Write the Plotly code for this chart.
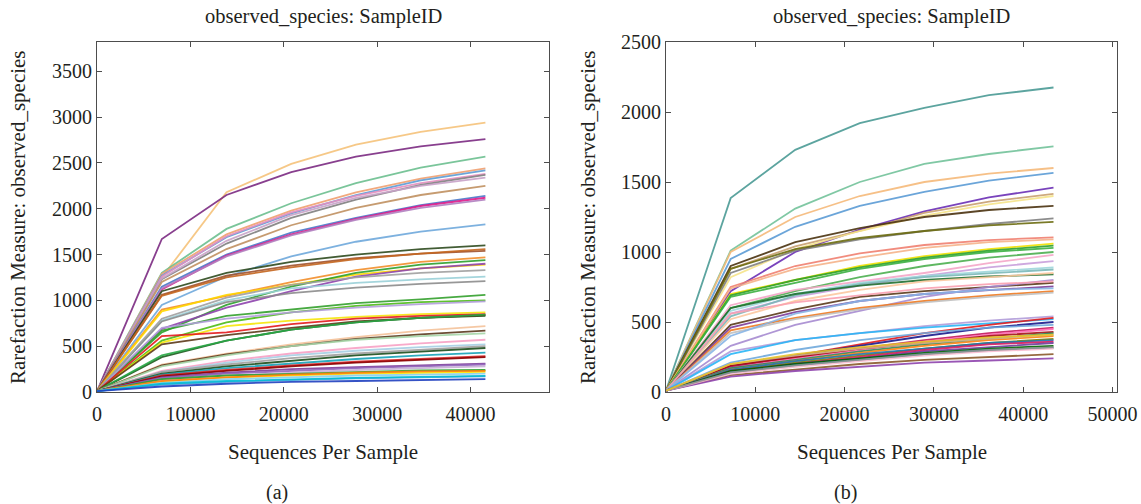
import plotly.graph_objects as go

# ---------------- data ----------------
X_A = [10, 6940, 13870, 20800, 27730, 34660, 41590]
X_B = [10, 7240, 14470, 21700, 28930, 36160, 43390]

A_VALUES = [
    [10, 1250, 2180, 2490, 2700, 2840, 2940],
    [10, 1670, 2150, 2400, 2570, 2680, 2760],
    [10, 1300, 1780, 2060, 2280, 2450, 2570],
    [10, 1290, 1720, 1980, 2180, 2330, 2440],
    [10, 1270, 1690, 1950, 2150, 2310, 2420],
    [10, 1260, 1700, 1960, 2140, 2280, 2380],
    [10, 1230, 1620, 1900, 2100, 2260, 2370],
    [10, 1240, 1650, 1930, 2120, 2250, 2340],
    [10, 1200, 1560, 1820, 2010, 2150, 2250],
    [10, 1150, 1500, 1740, 1900, 2040, 2140],
    [10, 1120, 1490, 1720, 1890, 2030, 2120],
    [10, 1130, 1480, 1710, 1880, 2010, 2100],
    [10, 950, 1260, 1480, 1640, 1750, 1830],
    [10, 1100, 1300, 1420, 1500, 1560, 1600],
    [10, 1060, 1270, 1380, 1460, 1510, 1540],
    [10, 1050, 1250, 1360, 1450, 1510, 1560],
    [10, 900, 1050, 1200, 1330, 1420, 1470],
    [10, 880, 1060, 1170, 1280, 1350, 1390],
    [10, 650, 950, 1150, 1300, 1390, 1440],
    [10, 690, 920, 1100, 1260, 1350, 1400],
    [10, 780, 1000, 1130, 1190, 1230, 1260],
    [10, 770, 980, 1080, 1140, 1180, 1210],
    [10, 800, 1030, 1170, 1250, 1300, 1330],
    [10, 670, 830, 900, 970, 1010, 1060],
    [10, 560, 760, 870, 940, 980, 1000],
    [10, 700, 800, 870, 920, 960, 990],
    [10, 540, 720, 780, 820, 850, 870],
    [10, 610, 650, 740, 800, 830, 850],
    [10, 380, 560, 680, 760, 810, 830],
    [10, 520, 620, 700, 770, 810, 840],
    [10, 400, 560, 680, 760, 810, 845],
    [10, 300, 420, 520, 600, 670, 720],
    [10, 290, 410, 500, 580, 630, 670],
    [10, 280, 400, 500, 570, 610, 640],
    [10, 230, 340, 420, 480, 530, 570],
    [10, 220, 320, 400, 450, 490, 520],
    [10, 220, 300, 370, 420, 460, 500],
    [10, 200, 280, 340, 400, 440, 480],
    [10, 190, 260, 310, 360, 400, 430],
    [10, 180, 240, 290, 330, 360, 390],
    [10, 170, 230, 280, 320, 350, 380],
    [10, 160, 210, 250, 270, 290, 310],
    [10, 150, 200, 230, 260, 280, 300],
    [10, 130, 180, 210, 240, 260, 280],
    [10, 140, 180, 200, 220, 235, 240],
    [10, 110, 160, 180, 200, 210, 220],
    [10, 120, 160, 190, 210, 225, 230],
    [10, 100, 140, 160, 180, 190, 200],
    [10, 80, 110, 130, 150, 160, 170],
    [10, 90, 120, 140, 155, 165, 175],
    [10, 60, 90, 110, 120, 130, 140],
]
A_COLORS = [
    "#f5c27a", "#7b2a82", "#6cbf8f", "#f0a070", "#5b9bd5", "#e48fbf", "#7f7f7f",
    "#c8a2c8", "#c09060", "#4a78c8", "#e0198a", "#b080c0", "#6fa8dc", "#2d4a1e",
    "#a0522d", "#c4661f", "#f28e2b", "#ffd700", "#2ca02c", "#8e44ad", "#9ad0d8",
    "#8c8c8c", "#a0a0a0", "#33a02c", "#4cbb17", "#b39ddb", "#f5e50a", "#e31a1c",
    "#1e5a1e", "#5c3a1a", "#28a745", "#f4c29a", "#5b3a1e", "#a5d6a7", "#f7a1c4",
    "#a6cee3", "#9e9e9e", "#1b4d1b", "#17a2b8", "#d62728", "#8b0000", "#7d3c98",
    "#9467bd", "#c5b0d5", "#2ca02c", "#ffe600", "#ff7f0e", "#87ceeb", "#4fa3e0",
    "#00bcd4", "#1f3fbf",
]

B_VALUES = [
    [10, 1385, 1730, 1920, 2030, 2120, 2175],
    [10, 1010, 1310, 1500, 1630, 1700, 1755],
    [10, 1000, 1250, 1400, 1500, 1560, 1600],
    [10, 950, 1180, 1330, 1430, 1510, 1565],
    [10, 720, 1000, 1160, 1290, 1390, 1460],
    [10, 880, 1040, 1150, 1280, 1360, 1415],
    [10, 820, 1020, 1150, 1260, 1340, 1400],
    [10, 900, 1070, 1170, 1250, 1300, 1330],
    [10, 850, 1010, 1090, 1150, 1200, 1240],
    [10, 880, 1020, 1100, 1150, 1190, 1215],
    [10, 750, 900, 990, 1050, 1085, 1105],
    [10, 740, 880, 960, 1030, 1070, 1090],
    [10, 700, 800, 900, 970, 1020, 1060],
    [10, 690, 800, 890, 960, 1010, 1045],
    [10, 680, 780, 880, 950, 1000, 1030],
    [10, 600, 720, 820, 900, 960, 1000],
    [10, 620, 730, 790, 850, 920, 980],
    [10, 560, 680, 760, 830, 890, 935],
    [10, 580, 700, 780, 830, 860, 890],
    [10, 540, 690, 770, 820, 850, 875],
    [10, 600, 700, 760, 800, 825, 840],
    [10, 520, 650, 730, 790, 820, 850],
    [10, 480, 590, 680, 720, 750, 780],
    [10, 460, 570, 650, 700, 730, 755],
    [10, 330, 480, 580, 680, 750, 800],
    [10, 440, 530, 600, 650, 690, 720],
    [10, 560, 640, 690, 740, 770, 790],
    [10, 420, 520, 590, 640, 680, 710],
    [10, 400, 560, 650, 700, 730, 740],
    [10, 290, 370, 420, 470, 510, 540],
    [10, 270, 370, 420, 460, 490, 520],
    [10, 190, 260, 340, 420, 480, 530],
    [10, 180, 260, 330, 400, 460, 500],
    [10, 210, 300, 370, 420, 460, 480],
    [10, 180, 250, 310, 370, 420, 460],
    [10, 170, 240, 300, 360, 410, 450],
    [10, 190, 250, 310, 350, 400, 430],
    [10, 170, 230, 290, 340, 380, 420],
    [10, 160, 220, 280, 330, 370, 400],
    [10, 200, 260, 310, 350, 380, 410],
    [10, 150, 210, 260, 310, 350, 380],
    [10, 160, 220, 270, 310, 350, 370],
    [10, 150, 200, 250, 300, 340, 360],
    [10, 140, 200, 240, 290, 320, 350],
    [10, 150, 200, 240, 280, 310, 330],
    [10, 140, 190, 230, 270, 300, 315],
    [10, 120, 160, 200, 230, 250, 270],
    [10, 110, 150, 180, 210, 225, 240],
    [10, 130, 180, 220, 260, 290, 310],
    [10, 140, 190, 230, 270, 300, 320],
    [10, 200, 270, 320, 360, 390, 410],
]
B_COLORS = [
    "#4a9a95", "#72c29a", "#f5b97a", "#5b9bd5", "#6a2fb5", "#c8a070", "#f5e38a",
    "#4a3210", "#808080", "#6b6b10", "#f08070", "#f5b38a", "#f0e000", "#2ca02c",
    "#3cb043", "#4caf50", "#f4a6c8", "#c9a0dc", "#9fd7dc", "#7ab8b8", "#1f6f30",
    "#fcc8a0", "#5a3a1a", "#7d3c98", "#a68bd0", "#f07a20", "#f9a0b0", "#c0c0c0",
    "#87b5e5", "#b19cd9", "#29b6f6", "#e31a1c", "#1a1a8c", "#6fa8dc", "#c2185b",
    "#ff69b4", "#a50f15", "#2e8b57", "#ff7f0e", "#d2b48c", "#808000", "#1f77b4",
    "#d81b60", "#6a3d9a", "#006400", "#008080", "#8b5a2b", "#8e44ad", "#f8bbd0",
    "#909090", "#e6c229",
]

TITLE = "observed_species: SampleID"
X_TITLE = "Sequences Per Sample"
Y_TITLE = "Rarefaction Measure: observed_species"
A_XTICKS = [0, 10000, 20000, 30000, 40000]
B_XTICKS = [0, 10000, 20000, 30000, 40000, 50000]
A_YTICKS = [0, 500, 1000, 1500, 2000, 2500, 3000, 3500]
B_YTICKS = [0, 500, 1000, 1500, 2000, 2500]

# ---------------- figure ----------------
W, H = 1141, 504
FONT = "Liberation Serif"
TXT = "#231f20"
AX = "#4d4d4d"

fig = go.Figure()
for vals, col in zip(A_VALUES, A_COLORS):
    fig.add_trace(go.Scatter(x=X_A, y=vals, mode="lines", xaxis="x", yaxis="y",
                             line=dict(color=col, width=1.8), opacity=0.9,
                             showlegend=False, hoverinfo="skip"))
for vals, col in zip(B_VALUES, B_COLORS):
    fig.add_trace(go.Scatter(x=X_B, y=vals, mode="lines", xaxis="x2", yaxis="y2",
                             line=dict(color=col, width=1.8), opacity=0.9,
                             showlegend=False, hoverinfo="skip"))

def px_x(p):
    return p / W

def px_y(p):
    return 1 - p / H

top, bot = 42, 392
a_l, a_r = 97, 549
b_l, b_r = 666, 1117

common = dict(showline=True, linecolor=AX, linewidth=1, mirror="ticks",
              ticks="inside", ticklen=5, tickcolor=AX, showgrid=False,
              zeroline=False, tickfont=dict(family=FONT, size=20, color=TXT),
              tickformat="d", automargin=False)

fig.update_layout(
    width=W, height=H,
    margin=dict(l=0, r=0, t=0, b=0, autoexpand=False),
    paper_bgcolor="white", plot_bgcolor="white",
    font=dict(family=FONT, color=TXT),
    hovermode=False,
    xaxis=dict(domain=[px_x(a_l), px_x(a_r)], range=[0, 48400], tickvals=A_XTICKS,
               anchor="y", ticklabelstandoff=4, **common),
    yaxis=dict(domain=[px_y(bot), px_y(top)], range=[0, 3820], tickvals=A_YTICKS,
               anchor="x", **common),
    xaxis2=dict(domain=[px_x(b_l), px_x(b_r)], range=[0, 50500], tickvals=B_XTICKS,
                anchor="y2", ticklabelstandoff=4, **common),
    yaxis2=dict(domain=[px_y(bot), px_y(top)], range=[0, 2500], tickvals=B_YTICKS,
                anchor="x2", **common),
)

ann = []
for l, r, lab in [(a_l, a_r, "(a)"), (b_l, b_r, "(b)")]:
    cx = (l + r) / 2
    ann.append(dict(x=px_x(cx), y=px_y(17), xref="paper", yref="paper", text=TITLE,
                    showarrow=False, font=dict(family=FONT, size=20.5, color=TXT),
                    xanchor="center", yanchor="middle"))
    ann.append(dict(x=px_x(cx), y=px_y(452), xref="paper", yref="paper", text=X_TITLE,
                    showarrow=False, font=dict(family=FONT, size=21, color=TXT),
                    xanchor="center", yanchor="middle"))
    ann.append(dict(x=px_x(cx - 46), y=px_y(492), xref="paper", yref="paper", text=lab,
                    showarrow=False, font=dict(family=FONT, size=20, color=TXT),
                    xanchor="center", yanchor="middle"))
for xc in (18, 588):
    ann.append(dict(x=px_x(xc), y=px_y((top + bot) / 2), xref="paper", yref="paper",
                    text=Y_TITLE, textangle=-90, showarrow=False,
                    font=dict(family=FONT, size=21, color=TXT),
                    xanchor="center", yanchor="middle"))
fig.update_layout(annotations=ann)

fig.write_html(
    "out.html",
    config={"displayModeBar": False, "staticPlot": True},
    post_script="document.body.style.margin='0px';document.body.style.overflow='hidden';",
)
